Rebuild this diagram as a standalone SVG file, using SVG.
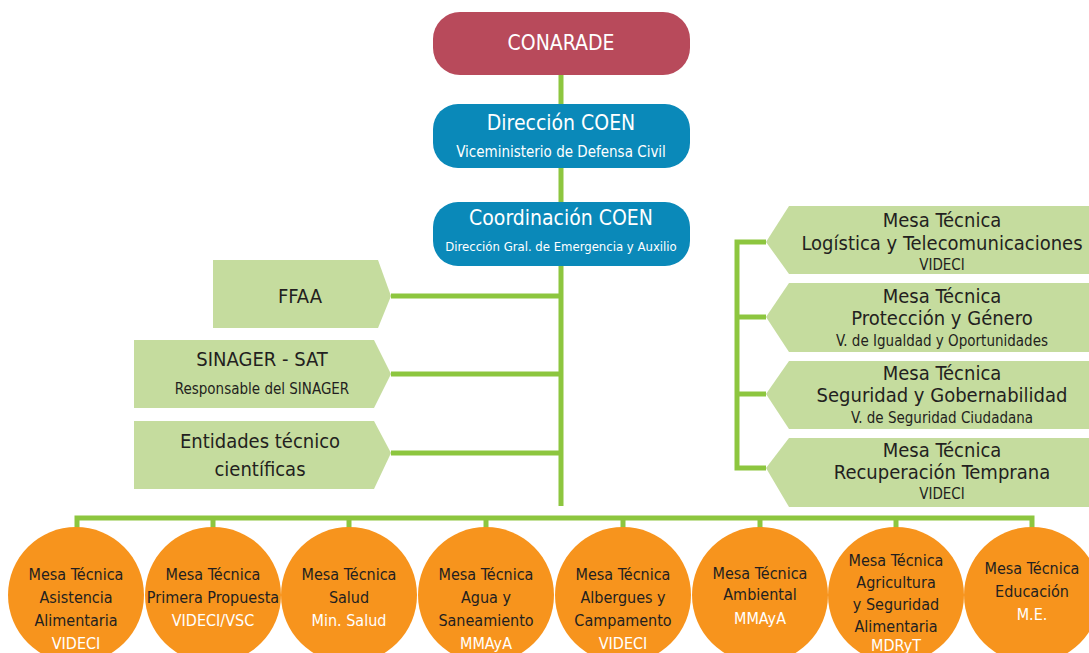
<svg xmlns="http://www.w3.org/2000/svg" width="1089" height="653" viewBox="0 0 1089 653">
<style>
text{font-family:"Liberation Sans Narrow","DejaVu Sans Condensed","Roboto Condensed",sans-serif;font-stretch:condensed;text-anchor:middle;fill:#231f20}
.w{fill:#ffffff}
.t22{font-size:21px}
.t20{font-size:20px}
.t15{font-size:15px}
.t13{font-size:13px}
.c{font-size:16px}
.g{fill:#c5dc9e}
.o{fill:#f7941d}
.ln{stroke:#8dc63f;stroke-width:5;fill:none}
</style>
<g id="connectors">
<line class="ln" x1="561" y1="75" x2="561" y2="506"/>
<line class="ln" x1="391" y1="296" x2="561" y2="296"/>
<line class="ln" x1="391" y1="374" x2="561" y2="374"/>
<line class="ln" x1="391" y1="453" x2="561" y2="453"/>
<polyline class="ln" points="766,242 737,242 737,468 766,468"/>
<line class="ln" x1="737" y1="317" x2="766" y2="317"/>
<line class="ln" x1="737" y1="394" x2="766" y2="394"/>
<polyline class="ln" points="77,530 77,518 1032,518 1032,530"/>
<line class="ln" x1="213" y1="518" x2="213" y2="530"/>
<line class="ln" x1="349" y1="518" x2="349" y2="530"/>
<line class="ln" x1="486" y1="518" x2="486" y2="530"/>
<line class="ln" x1="623" y1="518" x2="623" y2="530"/>
<line class="ln" x1="760" y1="518" x2="760" y2="530"/>
<line class="ln" x1="896" y1="518" x2="896" y2="530"/>
</g>
<g id="conarade">
<rect x="433" y="12" width="257" height="63" rx="27" fill="#b84a5b"/>
<text class="t22 w" x="561" y="50">CONARADE</text>
</g>
<g id="direccion-coen">
<rect x="433" y="104" width="257" height="64" rx="25" fill="#0a89b9"/>
<text class="t22 w" x="561" y="130">Dirección COEN</text>
<text class="t15 w" x="561" y="157">Viceministerio de Defensa Civil</text>
</g>
<g id="coordinacion-coen">
<rect x="433" y="202" width="257" height="64" rx="25" fill="#0a89b9"/>
<text class="t22 w" x="561" y="225">Coordinación COEN</text>
<text class="t13 w" x="561" y="251">Dirección Gral. de Emergencia y Auxilio</text>
</g>
<g id="ffaa">
<polygon class="g" points="213,260 378,260 391,296 378,328 213,328"/>
<text class="t20" x="300" y="303">FFAA</text>
</g>
<g id="sinager">
<polygon class="g" points="134,340 374,340 391,374 374,408 134,408"/>
<text class="t20" x="262" y="366">SINAGER - SAT</text>
<text class="t15" x="262" y="394">Responsable del SINAGER</text>
</g>
<g id="entidades">
<polygon class="g" points="134,421 374,421 391,453 374,489 134,489"/>
<text class="t20" x="260" y="448">Entidades técnico</text>
<text class="t20" x="260" y="476">científicas</text>
</g>
<g id="mt-logistica">
<polygon class="g" points="789,206 1089,206 1089,274 789,274 766,242"/>
<text class="t20" x="942" y="227">Mesa Técnica</text>
<text class="t20" x="942" y="250">Logística y Telecomunicaciones</text>
<text class="t15" x="942" y="270">VIDECI</text>
</g>
<g id="mt-proteccion">
<polygon class="g" points="789,283 1089,283 1089,352 789,352 766,317"/>
<text class="t20" x="942" y="303">Mesa Técnica</text>
<text class="t20" x="942" y="325">Protección y Género</text>
<text class="t15" x="942" y="346">V. de Igualdad y Oportunidades</text>
</g>
<g id="mt-seguridad">
<polygon class="g" points="789,361 1089,361 1089,429 789,429 766,394"/>
<text class="t20" x="942" y="380">Mesa Técnica</text>
<text class="t20" x="942" y="402">Seguridad y Gobernabilidad</text>
<text class="t15" x="942" y="423">V. de Seguridad Ciudadana</text>
</g>
<g id="mt-recuperacion">
<polygon class="g" points="789,438 1089,438 1089,507 789,507 766,468"/>
<text class="t20" x="942" y="457">Mesa Técnica</text>
<text class="t20" x="942" y="479">Recuperación Temprana</text>
<text class="t15" x="942" y="499">VIDECI</text>
</g>
<g id="mt-asistencia">
<circle class="o" cx="76" cy="595" r="68"/>
<text class="c" x="76" y="580">Mesa Técnica</text>
<text class="c" x="76" y="603">Asistencia</text>
<text class="c" x="76" y="626">Alimentaria</text>
<text class="c w" x="76" y="649">VIDECI</text>
</g>
<g id="mt-primera">
<circle class="o" cx="213" cy="595" r="68"/>
<text class="c" x="213" y="580">Mesa Técnica</text>
<text class="c" x="213" y="603">Primera Propuesta</text>
<text class="c w" x="213" y="626">VIDECI/VSC</text>
</g>
<g id="mt-salud">
<circle class="o" cx="349" cy="595" r="68"/>
<text class="c" x="349" y="580">Mesa Técnica</text>
<text class="c" x="349" y="603">Salud</text>
<text class="c w" x="349" y="626">Min. Salud</text>
</g>
<g id="mt-agua">
<circle class="o" cx="486" cy="595" r="68"/>
<text class="c" x="486" y="580">Mesa Técnica</text>
<text class="c" x="486" y="603">Agua y</text>
<text class="c" x="486" y="626">Saneamiento</text>
<text class="c w" x="486" y="649">MMAyA</text>
</g>
<g id="mt-albergues">
<circle class="o" cx="623" cy="595" r="68"/>
<text class="c" x="623" y="580">Mesa Técnica</text>
<text class="c" x="623" y="603">Albergues y</text>
<text class="c" x="623" y="626">Campamento</text>
<text class="c w" x="623" y="649">VIDECI</text>
</g>
<g id="mt-ambiental">
<circle class="o" cx="760" cy="595" r="68"/>
<text class="c" x="760" y="579">Mesa Técnica</text>
<text class="c" x="760" y="600">Ambiental</text>
<text class="c w" x="760" y="624">MMAyA</text>
</g>
<g id="mt-agricultura">
<circle class="o" cx="896" cy="595" r="68"/>
<text class="c" x="896" y="566">Mesa Técnica</text>
<text class="c" x="896" y="588">Agricultura</text>
<text class="c" x="896" y="610">y Seguridad</text>
<text class="c" x="896" y="632">Alimentaria</text>
<text class="c w" x="896" y="651">MDRyT</text>
</g>
<g id="mt-educacion">
<circle class="o" cx="1032" cy="595" r="68"/>
<text class="c" x="1032" y="574">Mesa Técnica</text>
<text class="c" x="1032" y="597">Educación</text>
<text class="c w" x="1032" y="620">M.E.</text>
</g>
</svg>
